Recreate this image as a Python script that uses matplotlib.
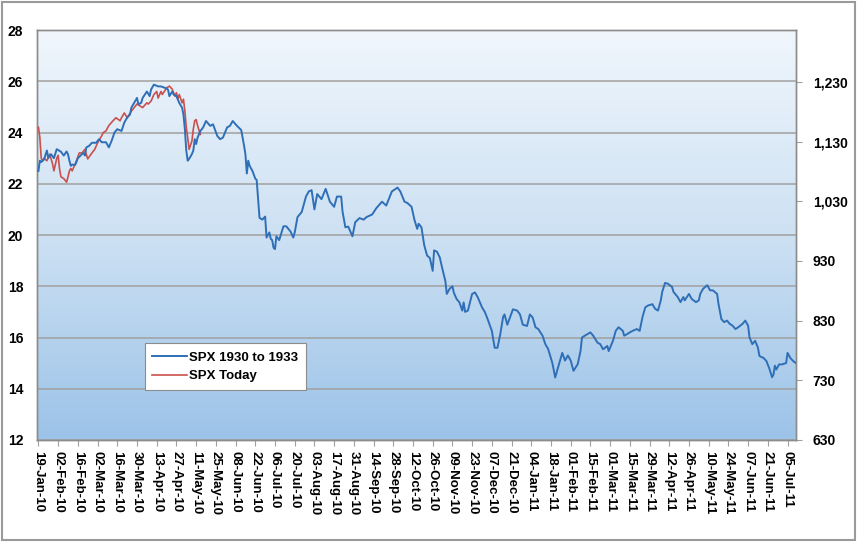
import datetime as dt
import numpy as np
import matplotlib
matplotlib.use("Agg")
import matplotlib.pyplot as plt
import matplotlib.dates as mdates
from matplotlib.patches import Rectangle
from matplotlib.ticker import FuncFormatter
from matplotlib.colors import LinearSegmentedColormap

# ---------------- data ----------------
start_date = dt.date(2010, 1, 19)

# SPX 1930 to 1933 (left axis): days after 19-Jan-2010 and index level
blue_days = [0, 1, 2, 4, 6, 7, 8, 9, 11, 13, 16, 18, 20, 21, 22, 23, 24, 26, 27, 28,
             29, 31, 32, 33, 34, 36, 38, 41, 43, 45, 48, 50, 52, 54, 56, 59, 61, 63, 65, 66,
             68, 70, 71, 73, 74, 77, 79, 80, 82, 85, 87, 90, 92, 93, 95, 96, 98, 100, 102, 103,
             104, 105, 106, 107, 109, 110, 111, 112, 113, 115, 117, 119, 122, 124, 127, 129, 131, 134, 136, 138,
             141, 144, 146, 147, 148, 149, 150, 152, 154, 155, 157, 159, 161, 162, 164, 165, 166, 167, 168, 169,
             171, 174, 176, 179, 181, 182, 184, 187, 190, 192, 194, 196, 198, 201, 204, 207, 210, 212, 215, 216,
             218, 220, 223, 225, 228, 231, 233, 237, 240, 244, 247, 251, 255, 257, 260, 262, 265, 267, 269, 270,
             272, 274, 276, 278, 280, 281, 283, 285, 287, 289, 290, 292, 294, 295, 297, 299, 301, 302, 303, 305,
             308, 310, 312, 315, 317, 319, 322, 324, 326, 328, 330, 331, 333, 335, 337, 340, 342, 344, 347, 349,
             351, 353, 355, 358, 360, 362, 365, 367, 369, 372, 374, 376, 378, 379, 380, 383, 385, 386, 388, 392,
             394, 397, 399, 401, 404, 405, 408, 410, 412, 415, 416, 418, 420, 422, 425, 427, 429, 431, 433, 436,
             438, 440, 442, 443, 445, 447, 450, 451, 454, 456, 458, 459, 462, 464, 467, 469, 470, 472, 475, 477,
             479, 482, 483, 485, 487, 489, 491, 493, 495, 497, 500, 502, 504, 505, 507, 509, 511, 512, 515, 517,
             519, 521, 522, 523, 524, 526, 528, 531, 532, 534, 536, 538]
blue_vals = [22.5, 22.9, 22.85, 22.95, 23.3, 23.0, 23.1, 23.15, 23.0, 23.35, 23.25, 23.1, 23.26, 23.15, 22.9, 22.7, 22.75, 22.73, 22.85, 23.0,
             23.05, 23.16, 23.2, 23.1, 23.42, 23.48, 23.6, 23.6, 23.74, 23.62, 23.62, 23.42, 23.68, 24.0, 24.13, 24.06, 24.39, 24.58, 24.7, 24.97,
             25.16, 25.35, 25.1, 25.16, 25.35, 25.6, 25.42, 25.68, 25.87, 25.8, 25.8, 25.74, 25.68, 25.42, 25.6, 25.48, 25.42, 25.16, 24.97, 24.7,
             24.13, 23.3, 22.9, 22.97, 23.16, 23.3, 23.74, 23.55, 23.8, 24.06, 24.2, 24.45, 24.26, 24.32, 23.87, 23.74, 23.8, 24.2, 24.26, 24.45,
             24.26, 24.1, 23.5, 23.15, 22.4, 22.9, 22.7, 22.5, 22.2, 22.15, 20.67, 20.6, 20.72, 19.9, 20.1, 19.85, 19.8, 19.5, 19.45, 19.95,
             19.8, 20.34, 20.34, 20.14, 19.9, 20.1, 20.7, 20.9, 21.5, 21.7, 21.75, 21.0, 21.6, 21.4, 21.8, 21.3, 21.1, 21.5, 21.5, 20.9,
             20.3, 20.33, 19.95, 20.5, 20.66, 20.6, 20.7, 20.8, 21.05, 21.3, 21.15, 21.7, 21.85, 21.7, 21.3, 21.25, 21.1, 20.6, 20.24, 20.44,
             20.3, 19.6, 19.2, 19.1, 18.6, 19.4, 19.35, 19.13, 18.65, 18.2, 17.7, 17.9, 18.0, 17.75, 17.5, 17.37, 17.05, 17.37, 17.0, 17.05,
             17.7, 17.76, 17.57, 17.18, 17.0, 16.72, 16.26, 15.6, 15.6, 16.13, 16.8, 16.9, 16.5, 16.8, 17.1, 17.05, 16.9, 16.5, 16.45, 16.9,
             16.78, 16.4, 16.33, 16.07, 15.74, 15.55, 15.0, 14.44, 14.83, 15.4, 15.1, 15.3, 15.1, 14.9, 14.7, 14.96, 15.48, 16.0, 16.07, 16.2,
             16.07, 15.8, 15.74, 15.54, 15.67, 15.47, 15.87, 16.26, 16.4, 16.26, 16.07, 16.13, 16.2, 16.26, 16.33, 16.26, 16.8, 17.18, 17.25, 17.3,
             17.12, 17.05, 17.45, 17.78, 18.13, 18.1, 17.97, 17.78, 17.58, 17.38, 17.58, 17.45, 17.7, 17.5, 17.38, 17.45, 17.7, 17.9, 18.04, 17.84,
             17.84, 17.7, 17.3, 16.72, 16.6, 16.66, 16.53, 16.46, 16.33, 16.4, 16.53, 16.66, 16.46, 16.0, 15.74, 15.87, 15.6, 15.28, 15.2, 15.08,
             14.8, 14.45, 14.55, 14.9, 14.75, 14.95, 14.95, 15.0, 15.4, 15.2, 15.08, 15.0]

# SPX Today (right axis): days after 19-Jan-2010 and index level
red_days = [0, 1, 2, 3, 4, 6, 8, 10, 11, 13, 14, 15, 16, 18, 20, 21, 22, 23, 24, 27,
            29, 31, 33, 35, 38, 40, 42, 45, 46, 48, 50, 53, 55, 58, 59, 61, 63, 66, 68, 70,
            72, 74, 77, 78, 80, 82, 84, 85, 87, 88, 91, 93, 95, 97, 98, 99, 100, 102, 103, 104,
            105, 106, 107, 109, 110, 111, 112, 113, 115]
red_vals = [1154, 1137, 1102, 1098, 1102, 1098, 1109, 1093, 1081, 1102, 1107, 1084, 1071, 1068, 1062, 1071, 1081, 1085, 1081, 1098,
            1111, 1111, 1117, 1101, 1111, 1117, 1128, 1140, 1145, 1148, 1157, 1165, 1170, 1165, 1170, 1178, 1170, 1181, 1187, 1193,
            1190, 1187, 1195, 1193, 1198, 1209, 1214, 1203, 1214, 1209, 1220, 1223, 1218, 1206, 1212, 1201, 1209, 1195, 1201, 1181,
            1154, 1137, 1117, 1131, 1151, 1165, 1167, 1157, 1142]

blue_label = "SPX 1930 to 1933"
red_label = "SPX Today"
left_ticks = [12, 14, 16, 18, 20, 22, 24, 26, 28]
right_ticks = [630, 730, 830, 930, 1030, 1130, 1230]
tick_interval_days = 14
last_tick_date = dt.date(2011, 7, 5)

# ---------------- figure ----------------
plt.rcParams['font.family'] = ['Liberation Sans', 'DejaVu Sans']

fig = plt.figure(figsize=(8.57, 5.42), dpi=100, facecolor='white')
ax2 = fig.add_axes([0.0432, 0.1882, 0.8856, 0.7564])   # right scale + background
ax = ax2.twinx()                                         # left scale, drawn on top
ax.yaxis.tick_left()
ax.yaxis.set_label_position('left')
ax2.yaxis.tick_right()
ax2.yaxis.set_label_position('right')

blue_dates = [start_date + dt.timedelta(days=d) for d in blue_days]
red_dates = [start_date + dt.timedelta(days=d) for d in red_days]

xmin = start_date - dt.timedelta(days=1)
xmax = start_date + dt.timedelta(days=538)

# gradient background
grad = np.linspace(0, 1, 256).reshape(-1, 1)
cmap = LinearSegmentedColormap.from_list('bg', ['#9cc3e8', '#cde1f3', '#f0f6fc'])
ax2.imshow(grad, cmap=cmap, aspect='auto', extent=[0, 1, 0, 1],
           transform=ax2.transAxes, zorder=0, origin='lower')

ax2.set_xlim(xmin, xmax)
ax2.set_ylim(630, 1317)
ax2.set_yticks(right_ticks)
ax2.yaxis.set_major_formatter(FuncFormatter(lambda v, p: f"{int(v):,}"))

ax.set_xlim(xmin, xmax)
ax.set_ylim(12, 28)
ax.set_yticks(left_ticks)
ax.set_axisbelow(True)
ax.yaxis.grid(True, color='#a0a0a0', linewidth=1.1)
ax.patch.set_visible(False)

# red series uses the right-axis scale but is drawn above the gridlines
ln2, = ax.plot(red_dates, red_vals, color='#c9504c', linewidth=1.2, zorder=3,
               transform=ax2.transData, scalex=False, scaley=False, label=red_label)
ln1, = ax.plot(blue_dates, blue_vals, color='#2f6fb7', linewidth=1.4, zorder=4, label=blue_label)
ax.set_xlim(xmin, xmax)
ax.set_ylim(12, 28)

ticks = []
d = start_date
while d <= last_tick_date:
    ticks.append(d)
    d += dt.timedelta(days=tick_interval_days)
ax2.set_xticks(ticks)
ax2.xaxis.set_major_formatter(mdates.DateFormatter('%d-%b-%y'))
for lab in ax2.get_xticklabels():
    lab.set_rotation(-90)
    lab.set_fontsize(9.5)
    lab.set_fontweight('bold')
    lab.set_ha('center')
    lab.set_va('top')

for a in (ax, ax2):
    for s in a.spines.values():
        s.set_color('#8c8c8c')
        s.set_linewidth(1.0)

ax.tick_params(axis='y', length=0, labelsize=10, pad=10)
for lab in ax.get_yticklabels():
    lab.set_fontweight('bold')
ax2.tick_params(axis='y', length=4, color='#a0a0a0', labelsize=10, pad=8)
for lab in ax2.get_yticklabels():
    lab.set_fontweight('bold')
ax2.tick_params(axis='x', length=4, color='#a0a0a0', pad=4)

leg = ax.legend([ln1, ln2], [blue_label, red_label], loc='lower left',
                bbox_to_anchor=(0.133, 0.105), fancybox=False, framealpha=1,
                edgecolor='#8c8c8c', prop={'weight': 'bold', 'size': 9.5},
                handlelength=2.6, handletextpad=0.2, borderpad=0.6, labelspacing=0.5)
leg.get_frame().set_linewidth(0.8)
leg.set_zorder(10)

# outer frame
fig.patches.append(Rectangle((0.002, 0.004), 0.996, 0.993, transform=fig.transFigure,
                             fill=False, edgecolor='#9a9a9a', linewidth=1.5))

fig.savefig('out.png', dpi=100, facecolor='white')
